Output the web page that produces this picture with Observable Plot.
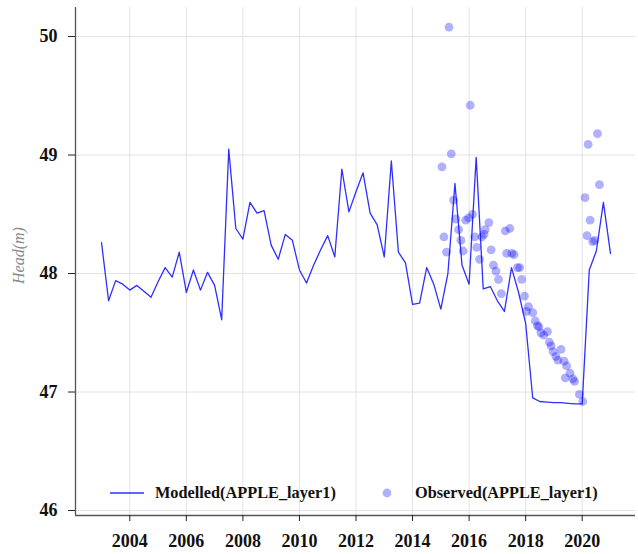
<!DOCTYPE html>
<html><head><meta charset="utf-8">
<script src="https://cdn.jsdelivr.net/npm/d3@7"></script>
<script src="https://cdn.jsdelivr.net/npm/@observablehq/plot@0.6"></script>
<style>
body{margin:0;background:#fff}
#wrap{position:relative;width:638px;height:554px}
.leg{position:absolute;top:483px;height:20px;display:flex;align-items:center;font:bold 16.3px "Liberation Serif",serif;color:#111;white-space:nowrap}
</style></head><body><div id="wrap"></div>
<script>
const modelledYears = [2003.00,2003.25,2003.50,2003.75,2004.00,2004.25,2004.50,2004.75,2005.00,2005.25,2005.50,2005.75,2006.00,2006.25,2006.50,2006.75,2007.00,2007.25,2007.50,2007.75,2008.00,2008.25,2008.50,2008.75,2009.00,2009.25,2009.50,2009.75,2010.00,2010.25,2010.50,2010.75,2011.00,2011.25,2011.50,2011.75,2012.00,2012.25,2012.50,2012.75,2013.00,2013.25,2013.50,2013.75,2014.00,2014.25,2014.50,2014.75,2015.00,2015.25,2015.50,2015.75,2016.00,2016.25,2016.50,2016.75,2017.00,2017.25,2017.50,2017.75,2018.00,2018.25,2018.50,2018.75,2019.00,2019.25,2019.50,2019.75,2020.00,2020.25,2020.50,2020.75,2021.00];
const modelledHead = [48.26,47.77,47.94,47.91,47.86,47.90,47.85,47.80,47.93,48.05,47.97,48.18,47.84,48.03,47.86,48.01,47.90,47.61,49.05,48.38,48.29,48.60,48.51,48.53,48.24,48.12,48.33,48.28,48.03,47.92,48.07,48.20,48.32,48.14,48.88,48.52,48.69,48.85,48.51,48.41,48.14,48.95,48.18,48.09,47.74,47.75,48.05,47.91,47.70,48.00,48.76,48.07,47.91,48.98,47.87,47.89,47.77,47.68,48.05,47.84,47.58,46.95,46.92,46.915,46.91,46.91,46.905,46.90,46.90,48.03,48.19,48.60,48.17];
const observedYears = [2015.04,2015.11,2015.20,2015.29,2015.37,2015.45,2015.53,2015.63,2015.71,2015.79,2015.88,2015.98,2016.04,2016.12,2016.20,2016.27,2016.37,2016.45,2016.53,2016.57,2016.70,2016.78,2016.86,2016.95,2017.04,2017.14,2017.28,2017.33,2017.44,2017.51,2017.59,2017.71,2017.79,2017.86,2017.96,2018.03,2018.10,2018.25,2018.34,2018.42,2018.47,2018.54,2018.64,2018.77,2018.84,2018.90,2018.97,2019.07,2019.14,2019.25,2019.36,2019.40,2019.45,2019.57,2019.67,2019.73,2019.90,2020.02,2020.10,2020.17,2020.21,2020.28,2020.37,2020.44,2020.54,2020.61];
const observedHead = [48.90,48.31,48.18,50.08,49.01,48.62,48.46,48.37,48.28,48.19,48.45,48.47,49.42,48.50,48.31,48.22,48.12,48.31,48.33,48.37,48.43,48.20,48.07,48.02,47.95,47.83,48.36,48.17,48.38,48.17,48.16,48.05,48.05,47.95,47.81,47.68,47.72,47.67,47.60,47.56,47.55,47.50,47.48,47.51,47.42,47.39,47.34,47.30,47.27,47.36,47.26,47.12,47.22,47.16,47.11,47.09,46.98,46.92,48.64,48.32,49.09,48.45,48.27,48.28,49.18,48.75];
const xTicks = [2004,2006,2008,2010,2012,2014,2016,2018,2020];
const yTicks = [46,47,48,49,50];
const xDomain = [2002.08, 2021.885];
const yDomain = [45.958, 50.245];
const yLabel = "Head(m)";
const seriesNames = ["Modelled(APPLE_layer1)", "Observed(APPLE_layer1)"];

const modelled = modelledYears.map((t,i)=>({t, h: modelledHead[i]}));
const observed = observedYears.map((t,i)=>({t, h: observedHead[i]}));

const chart = Plot.plot({
  width: 638, height: 554,
  marginLeft: 75, marginRight: 3, marginTop: 7, marginBottom: 39,
  style: {background:"#fff", fontFamily:"Liberation Serif, serif", overflow:"visible"},
  x: {domain: xDomain},
  y: {domain: yDomain},
  marks: [
    Plot.gridX(xTicks, {stroke:"#e3e3e3", strokeOpacity:1}),
    Plot.gridY(yTicks, {stroke:"#e3e3e3", strokeOpacity:1}),
    Plot.ruleX([xDomain[0]], {stroke:"#555", strokeWidth:1.3}),
    Plot.ruleY([yDomain[0]], {stroke:"#555", strokeWidth:1.3}),
    Plot.axisX(xTicks, {tickSize:6, tickPadding:13, tickFormat:d3.format("d"), stroke:"#222", fontSize:18, fontWeight:"bold", fill:"#111", label:null}),
    Plot.axisY(yTicks, {tickSize:7, tickPadding:11, tickFormat:d3.format("d"), stroke:"#222", fontSize:18, fontWeight:"bold", fill:"#111", label:null}),
    Plot.line(modelled, {x:"t", y:"h", stroke:"#2f2fff", strokeWidth:1.3}),
    Plot.dot(observed, {x:"t", y:"h", r:4.4, fill:"#0000ff", fillOpacity:0.31, stroke:"none"}),
    Plot.text([yLabel], {frameAnchor:"left", textAnchor:"middle", dx:-57, dy:-6, rotate:-90, fontSize:16, fontStyle:"italic", fill:"#888", text:d=>d})
  ]
});
const wrap = document.getElementById("wrap");
wrap.appendChild(chart);

function legItem(left, swatchSvg, textLeft, label){
  const s = document.createElement("div");
  s.className = "leg"; s.style.left = left + "px";
  s.innerHTML = swatchSvg;
  wrap.appendChild(s);
  const t = document.createElement("div");
  t.className = "leg"; t.style.left = textLeft + "px";
  t.textContent = label;
  wrap.appendChild(t);
}
legItem(110, '<svg width="34" height="20"><line x1="0" x2="34" y1="10" y2="10" stroke="#2f2fff" stroke-width="1.3"/></svg>', 155, seriesNames[0]);
legItem(382, '<svg width="10" height="20"><circle cx="5" cy="10" r="4.4" fill="#0000ff" fill-opacity="0.31"/></svg>', 415, seriesNames[1]);
</script>
</body></html>
